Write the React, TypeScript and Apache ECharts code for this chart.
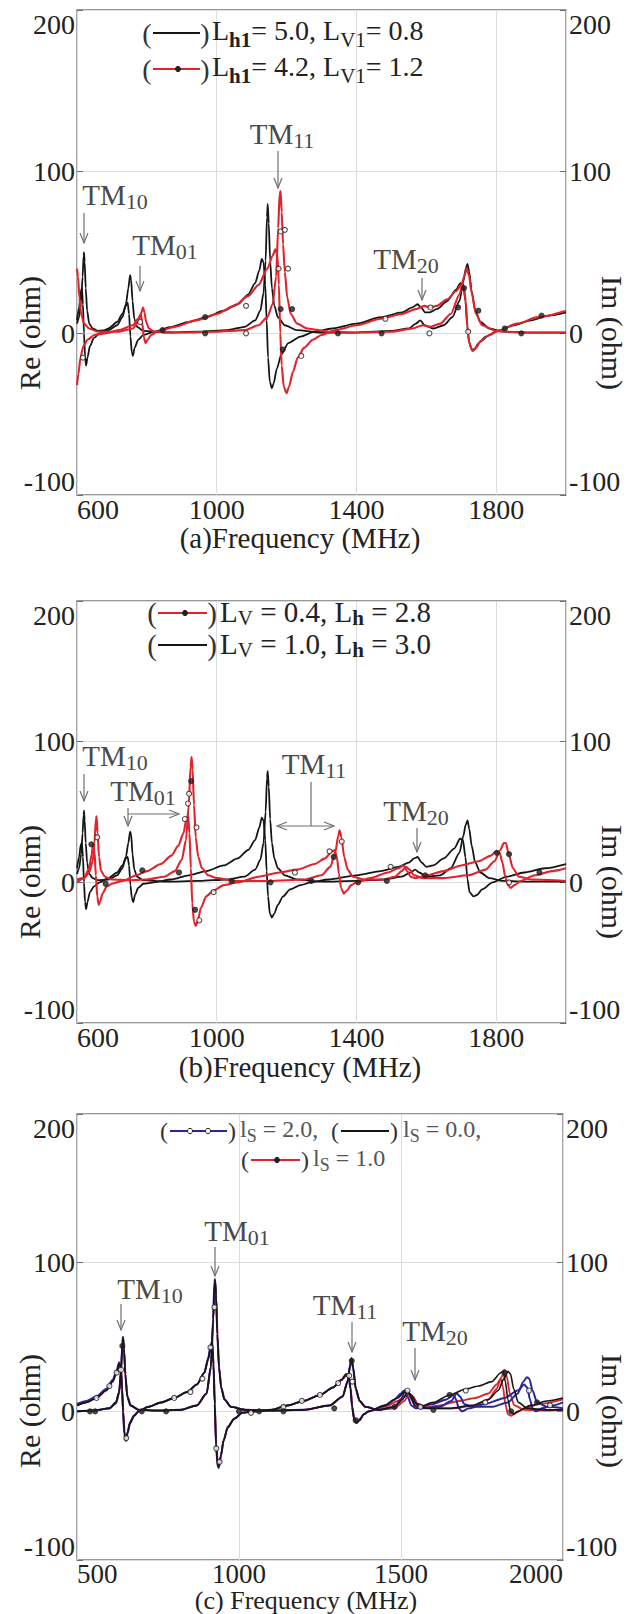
import React, { useEffect, useRef } from "react";
import * as echarts from "echarts";

const FONT = "Liberation Serif, Times New Roman, serif";

// ---------- axes ----------
const xTicksAB = [600, 1000, 1400, 1800];
const xTicksC = [500, 1000, 1500, 2000];
const yTicks = [-100, 0, 100, 200];

// ---------- panel (a) ----------
const aBlackRe = [[600,6],[606,10],[612,20],[616,35],[619,48],[620,50],[622,44],[625,28],[629,14],[635,6],[645,3],[660,1.5],[690,2],[715,5],[730,10],[740,18],[747,28],[752,36],[755,33],[759,20],[764,9],[772,4],[790,1.5],[850,0.5],[950,1],[1030,2],[1080,4],[1110,8],[1125,14],[1134,25],[1140,45],[1144,72],[1146,80],[1149,68],[1153,45],[1158,28],[1165,17],[1175,10],[1195,5],[1230,2],[1300,0.5],[1400,0.5],[1500,1.5],[1550,3],[1570,6],[1583,8],[1595,5],[1620,3],[1650,5],[1675,10],[1695,20],[1706,32],[1713,40],[1718,43],[1723,38],[1730,26],[1740,14],[1755,7],[1780,3],[1820,1],[1900,0.5],[2000,0.5]];
const aBlackIm = [[600,8],[606,16],[611,26],[614,28],[617,18],[620,0],[623,-14],[626,-20],[630,-15],[637,-8],[648,-3],[665,0],[690,3],[715,7],[730,12],[740,17],[745,19],[749,12],[753,-2],[757,-12],[760,-14],[765,-9],[775,-4],[790,-1],[820,1],[870,4],[920,7],[970,10],[1020,14],[1060,18],[1090,24],[1110,31],[1122,39],[1129,46],[1134,44],[1139,30],[1143,8],[1147,-15],[1152,-30],[1158,-34],[1163,-31],[1172,-22],[1185,-13],[1205,-6],[1240,-2],[1280,1],[1330,3],[1400,6],[1470,10],[1530,13],[1560,16],[1575,18],[1585,16],[1597,13],[1610,13],[1630,15],[1660,20],[1685,27],[1698,31],[1706,30],[1712,20],[1717,5],[1722,-5],[1730,-10],[1738,-10],[1750,-6],[1770,-2],[1800,1],[1850,5],[1900,8],[1950,11],[2000,13]];
const aRedRe = [[600,40],[603,35],[607,22],[612,12],[620,6],[635,3],[660,1],[720,1],[760,3],[775,7],[783,12],[789,16],[793,13],[798,7],[806,3],[820,1],[900,0.5],[1000,1],[1080,2],[1120,5],[1145,10],[1160,18],[1170,35],[1176,65],[1180,86],[1183,88],[1186,75],[1190,55],[1195,38],[1202,22],[1212,12],[1230,6],[1260,3],[1320,1],[1400,0.5],[1500,1],[1560,3],[1590,5],[1610,4],[1640,6],[1670,12],[1695,24],[1708,35],[1716,40],[1722,36],[1730,25],[1742,12],[1760,5],[1800,1.5],[1870,0.5],[2000,0.5]];
const aRedIm = [[600,-32],[604,-25],[610,-15],[618,-8],[630,-4],[650,-1],[680,0],[720,2],[760,5],[775,9],[783,12],[787,6],[791,-2],[796,-6],[802,-4],[812,-1],[830,1],[880,4],[940,8],[1000,12],[1050,17],[1090,23],[1120,30],[1145,40],[1160,48],[1168,52],[1174,48],[1178,30],[1182,0],[1186,-20],[1192,-33],[1200,-37],[1207,-33],[1218,-24],[1232,-15],[1250,-9],[1275,-4],[1300,-1],[1340,2],[1400,5],[1470,9],[1530,12],[1570,15],[1595,17],[1610,16],[1630,17],[1660,21],[1685,26],[1700,30],[1708,28],[1713,20],[1718,4],[1723,-6],[1732,-11],[1742,-9],[1755,-5],[1780,-1],[1810,2],[1860,6],[1920,10],[2000,14]];
const aOpenMarks = [[617,-15],[781,7],[1084,17],[1084,0],[1183,63],[1195,64],[1177,40],[1204,40],[1242,-14],[1483,9],[1609,0],[1612,16],[1720,1]];
const aFilledMarks = [[845,2],[967,10],[967,0],[1183,15],[1189,-10],[1216,15],[1347,0],[1472,0],[1691,16],[1708,28],[1749,14],[1825,3],[1872,0],[1930,11]];

// ---------- panel (b) ----------
const bBlackRe = [[600,6],[606,10],[612,20],[616,35],[619,48],[620,51],[622,44],[625,28],[629,14],[635,6],[645,3],[660,1.5],[690,2],[715,5],[730,10],[740,18],[747,28],[752,36],[755,34],[759,20],[764,9],[772,4],[790,1.5],[850,0.5],[950,1],[1030,2],[1080,4],[1110,9],[1125,16],[1134,28],[1140,50],[1144,74],[1146,79],[1149,68],[1153,45],[1158,28],[1165,17],[1175,10],[1195,5],[1230,2],[1300,0.5],[1400,1],[1480,2],[1530,4],[1555,7],[1568,9],[1580,7],[1600,4],[1640,5],[1670,10],[1695,21],[1706,33],[1713,41],[1718,44],[1723,38],[1730,26],[1740,14],[1755,7],[1780,3],[1820,1],[1900,0.5],[2000,0.5]];
const bBlackIm = [[600,10],[606,18],[611,27],[614,28],[617,18],[620,0],[623,-14],[626,-19],[630,-14],[637,-7],[648,-3],[665,0],[690,3],[715,7],[730,12],[740,17],[745,18],[749,12],[753,-2],[757,-11],[761,-14],[766,-9],[775,-4],[790,-1],[820,0],[870,2],[920,5],[970,8],[1020,12],[1060,17],[1090,23],[1110,30],[1122,39],[1129,46],[1134,44],[1139,30],[1143,8],[1147,-10],[1152,-22],[1158,-25],[1165,-22],[1175,-16],[1190,-10],[1210,-5],[1240,-2],[1270,0],[1320,2],[1400,5],[1470,8],[1520,11],[1550,14],[1565,17],[1575,18],[1587,14],[1600,11],[1620,12],[1650,17],[1680,24],[1697,31],[1705,30],[1712,18],[1718,2],[1724,-7],[1735,-10],[1745,-9],[1760,-5],[1790,0],[1830,4],[1880,7],[1940,10],[2000,13]];
const bRedRe = [[600,2],[620,3],[635,7],[645,15],[650,28],[654,45],[656,47],[659,35],[663,18],[669,8],[680,4],[700,2],[750,1.5],[800,2],[850,4],[880,8],[900,16],[912,30],[920,55],[925,82],[928,89],[931,80],[935,55],[940,32],[947,18],[958,10],[975,5],[1000,3],[1050,1],[1150,1],[1250,2],[1300,5],[1325,11],[1340,22],[1348,33],[1352,37],[1357,32],[1365,18],[1375,9],[1390,4],[1420,2],[1480,2],[1510,4],[1530,8],[1542,11],[1552,9],[1565,5],[1590,3],[1650,3],[1720,5],[1770,9],[1795,15],[1812,23],[1822,28],[1828,28],[1836,20],[1848,10],[1865,4],[1900,2],[2000,1]];
const bRedIm = [[600,0],[620,3],[635,10],[642,20],[646,27],[650,22],[654,5],[658,-10],[662,-16],[666,-14],[673,-8],[685,-3],[700,-1],[730,1],[770,5],[800,8],[840,13],[870,19],[890,26],[905,35],[913,45],[918,48],[922,35],[926,10],[930,-15],[935,-28],[940,-31],[946,-27],[955,-18],[970,-10],[990,-6],[1020,-2],[1060,0],[1120,4],[1180,7],[1230,9],[1280,13],[1310,17],[1330,22],[1338,23],[1344,18],[1350,6],[1356,-4],[1364,-8],[1372,-6],[1385,-2],[1400,0],[1440,3],[1490,7],[1520,10],[1535,12],[1545,8],[1555,4],[1570,3],[1600,5],[1650,8],[1700,12],[1750,15],[1785,19],[1800,22],[1810,21],[1818,14],[1826,4],[1834,-2],[1842,-4],[1852,-2],[1870,1],[1910,5],[1960,8],[2000,10]];
const bOpenMarks = [[658,32],[909,45],[918,56],[921,63],[942,39],[950,-27],[991,-7],[1224,7],[1323,22],[1358,29],[1498,11],[1837,0]];
const bFilledMarks = [[641,27],[682,-1],[787,8.5],[892,7],[927,72],[938,-19.5],[1043,1],[1154,0],[1271,1],[1335,18],[1405,0],[1487,1],[1597,5],[1802,21],[1837,20],[1924,7]];

// ---------- panel (c) ----------
const cBlueRe = [[500,0],[550,0.5],[600,2],[620,6],[630,13],[636,28],[640,46],[642,50],[645,42],[649,25],[655,10],[665,4],[690,1],[750,0.5],[820,1],[870,4],[900,12],[913,30],[920,62],[924,87],[926,89],[929,78],[933,52],[938,30],[945,16],[955,8],[975,3],[1020,1],[1100,0.5],[1200,1],[1280,4],[1320,10],[1335,20],[1343,31],[1347,35],[1352,29],[1360,15],[1372,7],[1390,3],[1430,1],[1480,3],[1500,8],[1513,14],[1525,12],[1540,6],[1570,2],[1620,3],[1655,7],[1672,12],[1682,10],[1695,5],[1720,3],[1780,3],[1830,6],[1860,12],[1878,20],[1888,23],[1896,22],[1906,14],[1920,6],[1950,3],[2000,2]];
const cBlueIm = [[500,5],[530,7],[560,10],[590,15],[610,21],[622,27],[630,33],[635,30],[639,15],[642,0],[646,-15],[651,-20],[656,-15],[664,-8],[676,-3],[690,0],[720,3],[760,6],[800,9],[840,13],[870,18],[893,26],[905,36],[913,45],[917,47],[921,32],[925,5],[929,-23],[934,-37],[938,-38],[944,-30],[952,-20],[965,-11],[985,-5],[1010,-1],[1050,0],[1100,1],[1150,4],[1200,7],[1250,11],[1290,16],[1315,21],[1330,24],[1338,24],[1344,15],[1349,3],[1355,-5],[1362,-8],[1372,-6],[1385,-2],[1400,0],[1450,4],[1480,8],[1500,12],[1510,14],[1520,10],[1532,4],[1545,2],[1600,5],[1640,8],[1662,11],[1670,8],[1678,2],[1688,0],[1710,2],[1760,5],[1820,9],[1860,14],[1880,18],[1890,16],[1898,8],[1906,2],[1916,0],[1935,2],[1970,4],[2000,6]];
const cBlackRe = [[500,0],[550,0.5],[600,2],[620,6],[630,13],[636,28],[640,46],[642,50],[645,42],[649,25],[655,10],[665,4],[690,1],[750,0.5],[820,1],[870,4],[900,12],[913,30],[920,60],[924,85],[926,88],[929,78],[933,52],[938,30],[945,16],[955,8],[975,3],[1020,1],[1100,0.5],[1200,1],[1280,4],[1320,10],[1335,20],[1343,31],[1347,36],[1352,30],[1360,16],[1372,7],[1390,3],[1430,1],[1480,3],[1505,8],[1520,13],[1532,11],[1548,5],[1580,2],[1650,2],[1720,4],[1770,8],[1800,14],[1818,22],[1830,27],[1838,25],[1848,15],[1862,6],[1890,2],[1950,1],[2000,1]];
const cBlackIm = [[500,4],[530,6],[560,9],[590,14],[610,20],[622,26],[630,32],[635,30],[639,15],[642,0],[646,-15],[650,-19],[655,-15],[663,-8],[675,-3],[690,0],[720,3],[760,6],[800,9],[840,13],[870,18],[893,26],[905,35],[913,44],[917,46],[921,32],[925,5],[929,-22],[934,-36],[938,-37],[944,-30],[952,-20],[965,-11],[985,-5],[1010,-1],[1050,0],[1100,1],[1150,4],[1200,7],[1250,11],[1290,16],[1315,21],[1330,25],[1338,25],[1344,16],[1349,3],[1355,-5],[1362,-8],[1372,-6],[1385,-2],[1400,0],[1450,4],[1490,9],[1510,13],[1520,14],[1530,10],[1542,4],[1555,3],[1600,6],[1650,11],[1700,15],[1740,17],[1780,20],[1808,26],[1815,27],[1822,20],[1830,8],[1838,0],[1848,-2],[1860,0],[1900,4],[1950,7],[2000,9]];
const cRedRe = [[500,0],[550,0.5],[600,2],[620,5],[630,12],[636,26],[640,44],[643,49],[646,40],[650,23],[656,10],[666,4],[690,1],[750,0.5],[820,1],[870,4],[900,12],[914,30],[921,62],[925,86],[927,87],[930,76],[934,50],[939,29],[946,15],[956,8],[976,3],[1020,1],[1100,0.5],[1200,1],[1280,4],[1320,10],[1336,21],[1344,32],[1348,35],[1353,29],[1361,15],[1373,7],[1390,3],[1430,1],[1480,2],[1510,7],[1525,12],[1537,10],[1552,5],[1590,2],[1660,2],[1730,4],[1770,8],[1795,15],[1810,23],[1819,28],[1826,24],[1836,12],[1850,4],[1880,1],[1950,0.5],[2000,1]];
const cRedIm = [[500,4],[530,6],[560,9],[590,14],[610,20],[622,26],[631,31],[636,29],[640,14],[643,0],[647,-14],[651,-18],[656,-14],[664,-7],[676,-3],[690,0],[720,3],[760,6],[800,9],[840,13],[870,18],[893,26],[905,35],[914,44],[918,45],[922,30],[926,3],[930,-22],[935,-35],[939,-36],[945,-29],[953,-19],[966,-10],[986,-5],[1010,-1],[1050,0],[1100,1],[1150,4],[1200,7],[1250,11],[1290,16],[1316,21],[1331,24],[1339,24],[1345,15],[1350,3],[1356,-5],[1363,-7],[1373,-5],[1386,-2],[1400,0],[1450,3],[1490,7],[1510,10],[1522,12],[1532,8],[1545,3],[1560,2],[1620,4],[1680,7],[1730,9],[1770,12],[1795,18],[1808,22],[1815,16],[1822,5],[1830,-2],[1840,-3],[1855,-1],[1880,2],[1930,5],[2000,8]];
const cOpenMarks = [[560,9],[600,17],[622,26],[636,28],[652,-18],[800,9],[850,13],[887,22],[912,43],[924,70],[930,-25],[940,-34],[1037,-1],[1137,3],[1194,7],[1250,11],[1306,19],[1340,24],[1350,20],[1520,14],[1560,3],[1700,14],[1760,6],[1895,14],[1960,4]];
const cFilledMarks = [[540,0],[556,0],[640,44],[700,0],[775,0],[1000,0],[1062,0],[1137,0],[1294,2],[1348,34],[1360,-6],[1480,3],[1600,1],[1650,11],[1820,26],[1840,0],[1920,6]];

const BLACK = "#151515";
const RED = "#e3232c";
const BLUE = "#27279a";
const GRAY = "#6f6f6f";

const GRIDS = [
  { left: 77, top: 10, width: 489, height: 485 },
  { left: 77, top: 601, width: 489, height: 422 },
  { left: 77, top: 1114, width: 486, height: 446 },
];

function lineSeries(data: number[][], color: string, gi: number, width = 1.8, z = 2) {
  return {
    type: "line",
    xAxisIndex: gi,
    yAxisIndex: gi * 2,
    data,
    showSymbol: false,
    symbol: "none",
    smooth: 0.25,
    smoothMonotone: "x",
    lineStyle: { color, width },
    z,
    silent: true,
  };
}
function markSeries(data: number[][], gi: number, filled: boolean) {
  return {
    type: "scatter",
    xAxisIndex: gi,
    yAxisIndex: gi * 2,
    data,
    symbol: "circle",
    symbolSize: 5,
    itemStyle: { color: filled ? "#222" : "#fff", borderColor: "#222", borderWidth: 1.1 },
    z: 5,
    silent: true,
  };
}

const f = (size: number, weight = "normal") => `${weight} ${size}px ${FONT}`;

function tm(x: number, y: number, sub: string) {
  return {
    type: "text",
    x,
    y,
    z: 20,
    style: {
      text: `{m|TM}{s|${sub}}`,
      align: "center",
      verticalAlign: "middle",
      textAlign: "center",
      textVerticalAlign: "middle",
      font: f(29),
      rich: {
        m: { font: f(29), fontSize: 29, fontFamily: FONT, fill: "#4a4a4a", lineHeight: 32, verticalAlign: "top" },
        s: { font: f(22), fontSize: 22, fontFamily: FONT, fill: "#4a4a4a", lineHeight: 32, verticalAlign: "bottom" },
      },
    },
  };
}
function vArrow(x: number, y1: number, y2: number) {
  return [
    { type: "line", z: 20, shape: { x1: x, y1, x2: x, y2 }, style: { stroke: GRAY, lineWidth: 1.2 } },
    { type: "polyline", z: 20, shape: { points: [[x - 4, y2 - 10], [x, y2], [x + 4, y2 - 10]] }, style: { stroke: GRAY, lineWidth: 1.2, fill: "none" } },
  ];
}
function hArrow(x1: number, x2: number, y: number, both: boolean) {
  const els: any[] = [
    { type: "line", z: 20, shape: { x1, y1: y, x2, y2: y }, style: { stroke: GRAY, lineWidth: 1.2 } },
    { type: "polyline", z: 20, shape: { points: [[x2 - 10, y - 4], [x2, y], [x2 - 10, y + 4]] }, style: { stroke: GRAY, lineWidth: 1.2, fill: "none" } },
  ];
  if (both) {
    els.push({ type: "polyline", z: 20, shape: { points: [[x1 + 10, y - 4], [x1, y], [x1 + 10, y + 4]] }, style: { stroke: GRAY, lineWidth: 1.2, fill: "none" } });
  }
  return els;
}
function txt(x: number, y: number, text: string, size: number, color = "#222", align = "left", extra: any = {}) {
  return {
    type: "text",
    x,
    y,
    z: 20,
    ...extra,
    style: { text, font: f(size), fontSize: size, fontFamily: FONT, fill: color, align, verticalAlign: "middle", textAlign: align, textVerticalAlign: "middle" },
  };
}
function richTxt(x: number, y: number, text: string, size: number, rich: any) {
  return {
    type: "text",
    x,
    y,
    z: 20,
    style: { text, font: f(size), align: "left", verticalAlign: "middle", textAlign: "left", textVerticalAlign: "middle", rich },
  };
}
function legendLine(x1: number, x2: number, y: number, color: string, dots: number[], dotFill = "#222", size = 28) {
  const els: any[] = [
    txt(x1 - 6, y, "(", size, "#333", "center"),
    { type: "line", z: 20, shape: { x1, y1: y, x2, y2: y }, style: { stroke: color, lineWidth: 2 } },
    txt(x2 + 5, y, ")", size, "#333", "center"),
  ];
  dots.forEach((d) => els.push({ type: "circle", z: 21, shape: { cx: d, cy: y, r: 2.6 }, style: { fill: dotFill, stroke: "#222", lineWidth: 1 } }));
  return els;
}
const richL = (size: number, color: string, lh: number) => {
  const sub = Math.round(size * 0.74);
  return {
    n: { font: f(size), fontSize: size, fontFamily: FONT, fill: color, lineHeight: lh, verticalAlign: "top" },
    b: { font: f(sub, "bold"), fontSize: sub, fontWeight: "bold", fontFamily: FONT, fill: color, lineHeight: lh, verticalAlign: "bottom" },
    v: { font: f(sub), fontSize: sub, fontFamily: FONT, fill: color, lineHeight: lh, verticalAlign: "bottom" },
  };
};

export default function App() {
  const ref = useRef<HTMLDivElement>(null);
  useEffect(() => {
    if (!ref.current) return;
    const chart = echarts.init(ref.current, undefined, { renderer: "svg" });
    const axisLabelBase = { fontFamily: FONT, fontSize: 28, color: "#222" };
    const xAxes = GRIDS.map((_, i) => {
      const isC = i === 2;
      const ticks = isC ? xTicksC : xTicksAB;
      return {
        type: "value",
        gridIndex: i,
        min: ticks[0],
        max: 2000,
        interval: ticks[1] - ticks[0],
        axisLine: { show: false, onZero: false },
        axisTick: { show: false },
        splitLine: { show: true, lineStyle: { color: "#dcdcdc", width: 1 } },
        axisLabel: {
          ...axisLabelBase,
          fontSize: isC ? 27 : 28,
          margin: 0,
          showMaxLabel: isC,
          alignMinLabel: "left",
          alignMaxLabel: "right",
          formatter: (v: number) => (ticks.includes(v) ? String(v) : ""),
        },
      };
    });
    const yAxes: any[] = [];
    GRIDS.forEach((_, i) => {
      [0, 1].forEach((side) => {
        yAxes.push({
          type: "value",
          gridIndex: i,
          position: side === 0 ? "left" : "right",
          min: yTicks[0],
          max: yTicks[yTicks.length - 1],
          interval: 100,
          axisLine: { show: false },
          axisTick: { show: true, inside: true, length: 6, lineStyle: { color: GRAY } },
          splitLine: { show: side === 0, lineStyle: { color: "#dcdcdc", width: 1 } },
          axisLabel: {
            ...axisLabelBase,
            margin: side === 0 ? 2 : 3,
            verticalAlignMaxLabel: "top",
            verticalAlignMinLabel: "bottom",
          },
        });
      });
    });

    const series = [
      lineSeries(aBlackIm, BLACK, 0), lineSeries(aBlackRe, BLACK, 0),
      lineSeries(aRedIm, RED, 0, 2.1, 3), lineSeries(aRedRe, RED, 0, 2.1, 3),
      markSeries(aOpenMarks, 0, false), markSeries(aFilledMarks, 0, true),
      lineSeries(bBlackIm, BLACK, 1), lineSeries(bBlackRe, BLACK, 1),
      lineSeries(bRedIm, RED, 1, 2.1, 3), lineSeries(bRedRe, RED, 1, 2.1, 3),
      markSeries(bOpenMarks, 1, false), markSeries(bFilledMarks, 1, true),
      lineSeries(cRedIm, RED, 2, 1.9, 2), lineSeries(cRedRe, RED, 2, 1.9, 2),
      lineSeries(cBlueIm, BLUE, 2, 2, 3), lineSeries(cBlueRe, BLUE, 2, 2, 3),
      lineSeries(cBlackIm, BLACK, 2, 1.6, 4), lineSeries(cBlackRe, BLACK, 2, 1.6, 4),
      markSeries(cOpenMarks, 2, false), markSeries(cFilledMarks, 2, true),
    ];

    const graphic: any[] = [];
    const zeroY = [333, 882, 1411];
    const panelTitles = ["(a)Frequency (MHz)", "(b)Frequency (MHz)", "(c) Frequency (MHz)"];
    const titleY = [538, 1067, 1600];
    const titleX = [300, 300, 306];
    const titleSize = [29, 29, 26];
    GRIDS.forEach((g, i) => {
      graphic.push(txt(29, zeroY[i], "Re (ohm)", 30, "#222", "center", { rotation: Math.PI / 2 }));
      graphic.push(txt(612, zeroY[i], "Im (ohm)", 30, "#222", "center", { rotation: -Math.PI / 2 }));
      graphic.push(txt(titleX[i], titleY[i], panelTitles[i], titleSize[i], "#222", "center"));
    });

    // panel (a) legend
    graphic.push(...legendLine(153, 200, 33, BLACK, []));
    graphic.push(richTxt(212, 33, "{n|L}{b|h1}{n|= 5.0, L}{v|V1}{n|= 0.8}", 28, richL(28, "#222", 34)));
    graphic.push(...legendLine(153, 200, 69, RED, [178]));
    graphic.push(richTxt(212, 69, "{n|L}{b|h1}{n|= 4.2, L}{v|V1}{n|= 1.2}", 28, richL(28, "#222", 34)));
    // panel (a) annotations
    graphic.push(tm(115, 196, "10"), ...vArrow(84, 213, 243));
    graphic.push(tm(165, 246, "01"), ...vArrow(140, 266, 291));
    graphic.push(tm(282, 135, "11"), ...vArrow(278, 151, 188));
    graphic.push(tm(406, 260, "20"), ...vArrow(422, 278, 300));

    // panel (b) legend
    graphic.push(...legendLine(158, 207, 613, RED, [185], "#222", 29));
    graphic.push(richTxt(220, 613, "{n|L}{v|V}{n| = 0.4, L}{b|h}{n| = 2.8}", 29, richL(29, "#222", 31)));
    graphic.push(...legendLine(158, 207, 645, BLACK, [], "#222", 29));
    graphic.push(richTxt(220, 645, "{n|L}{v|V}{n| = 1.0, L}{b|h}{n| = 3.0}", 29, richL(29, "#222", 31)));
    // panel (b) annotations
    graphic.push(tm(115, 757, "10"), ...vArrow(84, 774, 801));
    graphic.push(tm(143, 792, "01"), ...vArrow(128, 808, 826), ...hArrow(128, 179, 814, false));
    graphic.push(tm(314, 765, "11"));
    graphic.push({ type: "line", z: 20, shape: { x1: 311, y1: 782, x2: 311, y2: 826 }, style: { stroke: GRAY, lineWidth: 1.2 } });
    graphic.push(...hArrow(277, 334, 826, true));
    graphic.push(tm(416, 812, "20"), ...vArrow(417, 828, 852));

    // panel (c) legend
    const cl = "#555";
    graphic.push(...legendLine(170, 227, 1131, BLUE, [190, 208], "#fff", 24));
    graphic.push(richTxt(240, 1131, "{n|l}{v|S}{n| = 2.0,}", 24, richL(24, cl, 28)));
    graphic.push(...legendLine(341, 389, 1131, BLACK, [], "#222", 24));
    graphic.push(richTxt(403, 1131, "{n|l}{v|S}{n| = 0.0,}", 24, richL(24, cl, 28)));
    graphic.push(...legendLine(251, 300, 1160, RED, [277], "#222", 24));
    graphic.push(richTxt(313, 1160, "{n|l}{v|S}{n| = 1.0}", 24, richL(24, cl, 28)));
    // panel (c) annotations
    graphic.push(tm(150, 1290, "10"), ...vArrow(121, 1304, 1330));
    graphic.push(tm(237, 1232, "01"), ...vArrow(215, 1247, 1276));
    graphic.push(tm(345, 1306, "11"), ...vArrow(352, 1322, 1352));
    graphic.push(tm(435, 1332, "20"), ...vArrow(415, 1348, 1380));

    chart.setOption({
      animation: false,
      backgroundColor: "#fff",
      grid: GRIDS.map((g) => ({ ...g, show: true, borderColor: "#777", borderWidth: 1.3, backgroundColor: "transparent", containLabel: false, outerBoundsMode: "none" })),
      xAxis: xAxes,
      yAxis: yAxes,
      series,
      graphic,
    });
    return () => chart.dispose();
  }, []);
  return <div ref={ref} style={{ position: "absolute", left: 0, top: 0, width: 636, height: 1614 }} />;
}
